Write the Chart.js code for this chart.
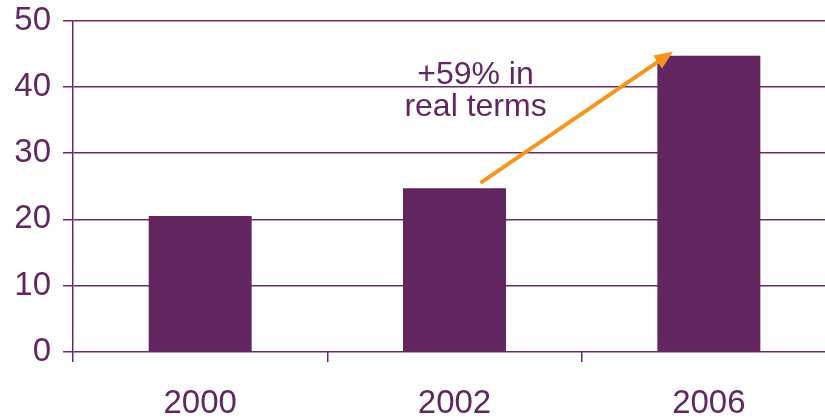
<!DOCTYPE html>
<html>
<head>
  <title>Real terms growth</title>
  <script src="https://cdn.jsdelivr.net/npm/chart.js"></script>
  <style>
    html, body { margin: 0; padding: 0; background: #fff; overflow: hidden; }
  </style>
</head>
<body>
  <canvas id="chart" width="840" height="419"></canvas>
  <script>
    const years = ['2000', '2002', '2006'];
    const values = [20.5, 24.7, 44.7];
    const yTicks = [0, 10, 20, 30, 40, 50];
    const noteLines = ['+59% in', 'real terms'];

    const purple = '#622660';
    const gridPurple = '#682a68';
    const orange = '#f7941d';

    // flèche + texte d'annotation
    const notePlugin = {
      id: 'note',
      afterDatasetsDraw(chart) {
        const ctx = chart.ctx;
        const x = chart.scales.x, y = chart.scales.y;
        const x0 = x.getPixelForValue(1) + 26, y0 = y.getPixelForValue(25.5);
        const x1 = x.getPixelForValue(2) - 36, y1 = y.getPixelForValue(45.3);
        const ang = Math.atan2(y1 - y0, x1 - x0);
        const head = 20;
        ctx.save();
        ctx.strokeStyle = orange;
        ctx.fillStyle = orange;
        ctx.lineWidth = 4;
        ctx.beginPath();
        ctx.moveTo(x0, y0);
        ctx.lineTo(x1 - Math.cos(ang) * head * 0.8, y1 - Math.sin(ang) * head * 0.8);
        ctx.stroke();
        ctx.beginPath();
        ctx.moveTo(x1, y1);
        ctx.lineTo(x1 - head * Math.cos(ang - 0.4), y1 - head * Math.sin(ang - 0.4));
        ctx.lineTo(x1 - head * Math.cos(ang + 0.4), y1 - head * Math.sin(ang + 0.4));
        ctx.closePath();
        ctx.fill();

        ctx.fillStyle = purple;
        ctx.font = '32px "Liberation Sans", Arial, sans-serif';
        ctx.textAlign = 'center';
        ctx.textBaseline = 'middle';
        const cx = x.getPixelForValue(1) + 21;
        ctx.fillText(noteLines[0], cx, y.getPixelForValue(41.8));
        ctx.fillText(noteLines[1], cx, y.getPixelForValue(36.9));
        ctx.restore();
      }
    };

    const ctx = document.getElementById('chart').getContext('2d');
    const chart = new Chart(ctx, {
      type: 'bar',
      data: {
        labels: years,
        datasets: [{
          data: values,
          backgroundColor: purple,
          borderWidth: 0,
          barPercentage: 0.405,
          categoryPercentage: 1
        }]
      },
      options: {
        responsive: false,
        animation: false,
        layout: { padding: { top: 20.5, right: 4, left: 0, bottom: 0 } },
        plugins: { legend: { display: false }, tooltip: { enabled: false } },
        scales: {
          x: {
            grid: {
              offset: true,
              drawOnChartArea: false,
              color: gridPurple,
              lineWidth: 1.5,
              tickLength: 10
            },
            border: { display: false },
            ticks: {
              color: purple,
              padding: 22,
              font: { family: '"Liberation Sans", Arial, sans-serif', size: 33 }
            },
            afterFit(scale) {
              scale.height = 67;
              scale.paddingLeft = 0;
              scale.paddingRight = 0;
            }
          },
          y: {
            min: 0,
            max: 50,
            afterBuildTicks(scale) { scale.ticks = yTicks.map(v => ({ value: v })); },
            grid: { color: gridPurple, lineWidth: 1.5, tickLength: 10 },
            border: { color: gridPurple, width: 1.5 },
            ticks: {
              color: purple,
              padding: 12,
              font: { family: '"Liberation Sans", Arial, sans-serif', size: 33 }
            },
            afterFit(scale) {
              scale.width = 73;
              scale.paddingTop = 0;
              scale.paddingBottom = 0;
            }
          }
        }
      },
      plugins: [notePlugin]
    });
  </script>
</body>
</html>
